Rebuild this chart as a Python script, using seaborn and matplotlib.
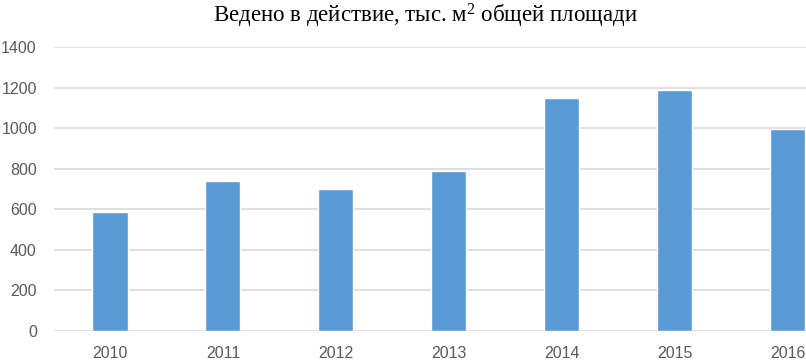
import matplotlib
matplotlib.use("Agg")
import matplotlib.pyplot as plt
import pandas as pd
import seaborn as sns

years = ["2010", "2011", "2012", "2013", "2014", "2015", "2016"]
area = [585, 740, 701, 789, 1150, 1188, 996]

TITLE = "Ведено в действие, тыс. м$^2$ общей площади"
BAR_COLOR = "#5B9BD5"
GRID_COLOR = "#D9D9D9"
TEXT_COLOR = "#595959"

df = pd.DataFrame({"year": years, "area": area})

sns.set_theme(style="white")
plt.rcParams["font.family"] = ["Liberation Sans", "DejaVu Sans"]
plt.rcParams["mathtext.fontset"] = "custom"
plt.rcParams["mathtext.rm"] = "Liberation Serif"
plt.rcParams["mathtext.it"] = "Liberation Serif"
plt.rcParams["mathtext.default"] = "rm"

fig = plt.figure(figsize=(8.06, 3.62), dpi=100)
# the right side of the original chart is cut off, so the axes run past the figure edge
ax = fig.add_axes([0.0664, 0.0856, 0.981, 0.7845])

sns.barplot(data=df, x="year", y="area", color=BAR_COLOR, width=0.31,
            saturation=1, ax=ax, zorder=3)

ax.set_ylim(0, 1400)
ax.set_yticks(range(0, 1401, 200))
ax.set_xlim(-0.5, len(years) - 0.5)
ax.yaxis.grid(True, color=GRID_COLOR, linewidth=1.2, zorder=0)
ax.set_axisbelow(True)
for side in ["top", "right", "left", "bottom"]:
    ax.spines[side].set_visible(False)
ax.set_xlabel("")
ax.set_ylabel("")
ax.tick_params(axis="both", length=0, labelsize=11.5, colors=TEXT_COLOR)
ax.tick_params(axis="x", pad=11)
ax.tick_params(axis="y", pad=12)

fig.text(425 / 806, 1 - 16 / 362, TITLE, ha="center", va="center",
         fontsize=16.5, family=["Liberation Serif", "DejaVu Serif"], color="black")

fig.savefig("out.png", dpi=100)
